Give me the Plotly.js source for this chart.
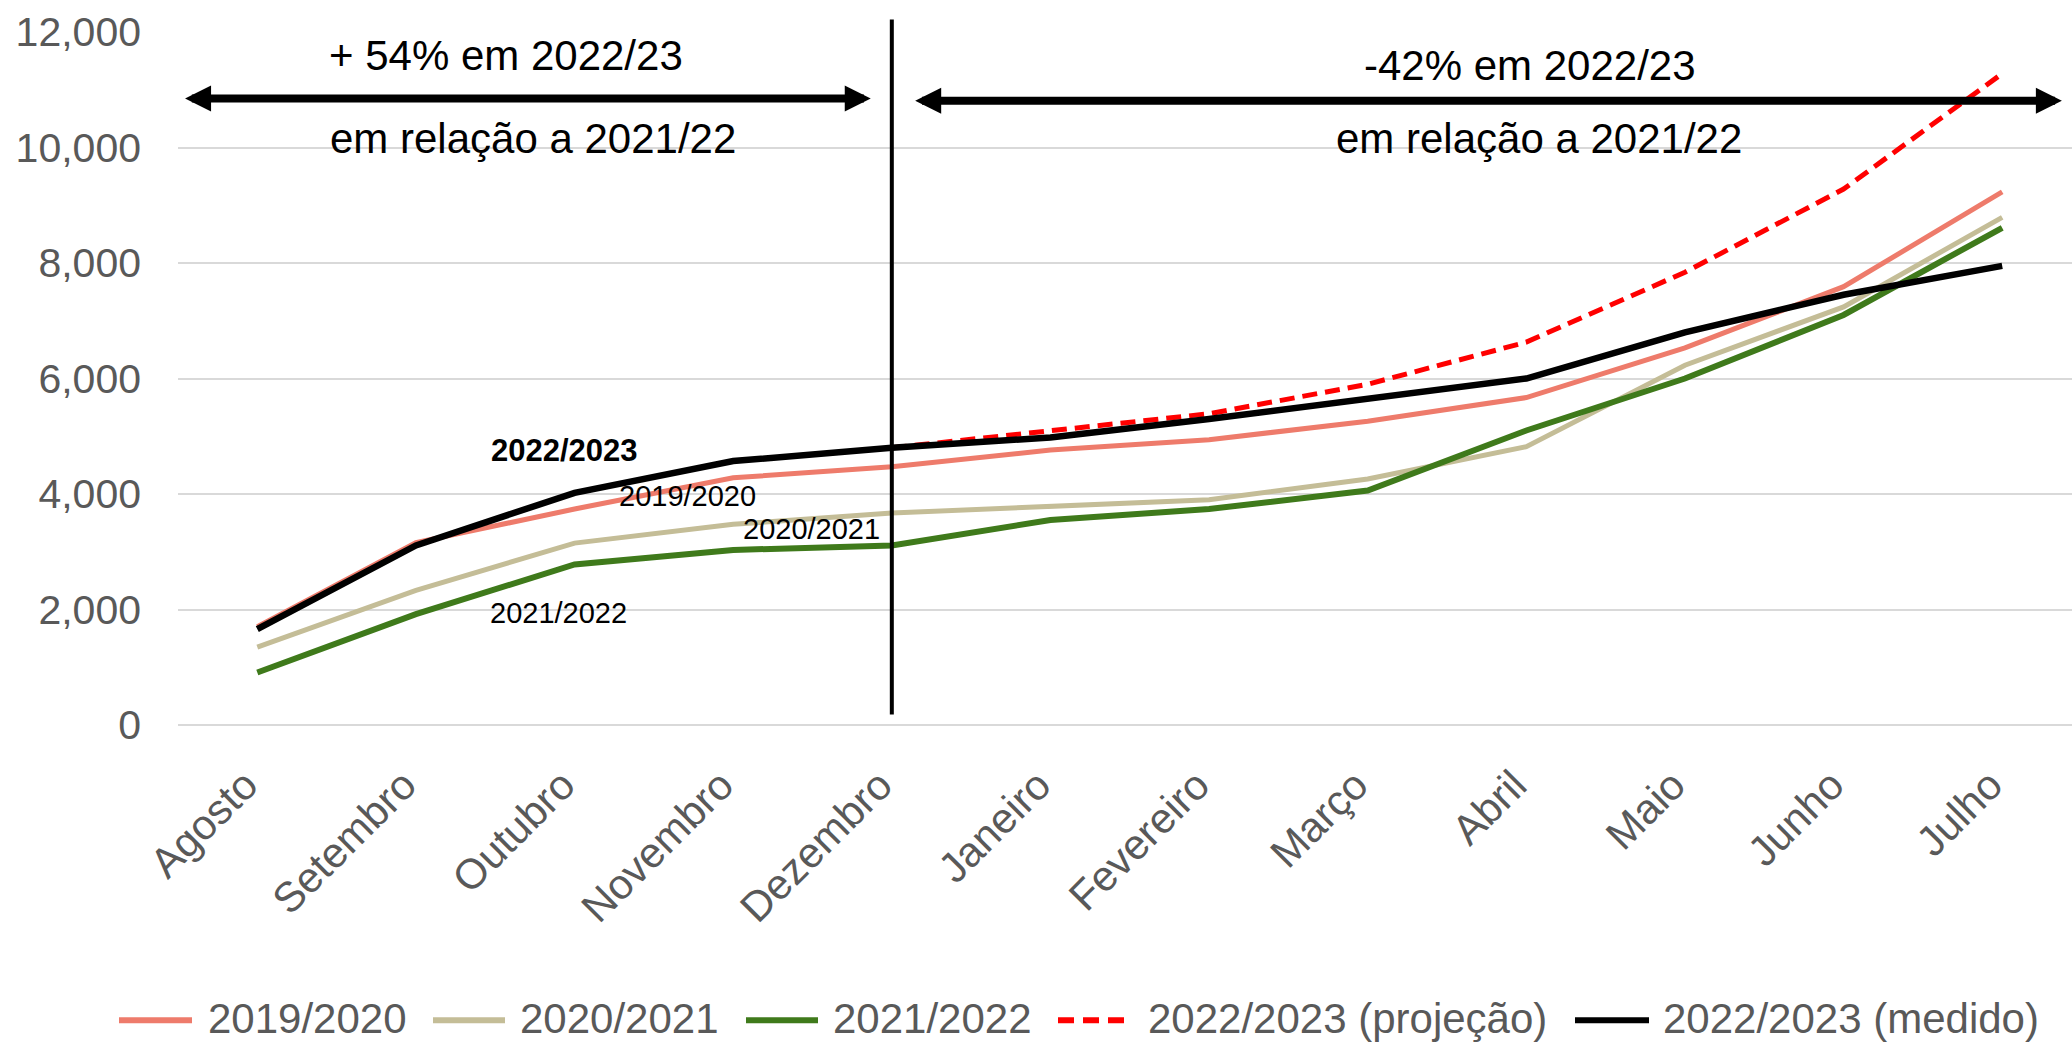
<!DOCTYPE html>
<html>
<head>
<meta charset="utf-8">
<script src="https://cdn.plot.ly/plotly-3.0.1.min.js"></script>
<style>html,body{margin:0;padding:0;background:#fff;}#chart{width:2072px;height:1043px;}</style>
</head>
<body>
<div id="chart"></div>
<script>
const months = ['Agosto','Setembro','Outubro','Novembro','Dezembro','Janeiro','Fevereiro','Março','Abril','Maio','Junho','Julho'];
const s2019_2020 = [1700, 3160, 3740, 4280, 4470, 4760, 4940, 5260, 5670, 6530, 7590, 9230];
const s2020_2021 = [1350, 2330, 3150, 3475, 3670, 3780, 3900, 4260, 4820, 6230, 7240, 8790];
const s2021_2022 = [910, 1920, 2780, 3030, 3110, 3550, 3740, 4060, 5100, 6000, 7100, 8610];
const s2022_2023_projecao = [null, null, null, null, 4800, 5100, 5390, 5900, 6630, 7840, 9280, 11280];
const s2022_2023_medido = [1660, 3110, 4020, 4570, 4800, 4980, 5300, 5650, 6000, 6800, 7450, 7950];
const seriesNames = ['2019/2020','2020/2021','2021/2022','2022/2023 (projeção)','2022/2023 (medido)'];
const seriesColors = ['#EE7B6B','#C4BD97','#3F7A1B','#FF0000','#000000'];
const seriesWidths = [5, 5, 6, 5, 6.5];
const seriesDash = ['solid','solid','solid','15px,8px','solid'];
const FONT = 'Liberation Sans, Arial, sans-serif';

const seriesValues = [s2019_2020, s2020_2021, s2021_2022, s2022_2023_projecao, s2022_2023_medido];
const traces = seriesValues.map((vals, i) => ({
  x: months, y: vals, name: seriesNames[i], mode: 'lines', showlegend: false, connectgaps: false,
  line: {color: seriesColors[i], width: seriesWidths[i], dash: seriesDash[i]}
}));

function txt(x, y, text, size, bold) {
  return {x: x, y: y, xref: 'x', yref: 'y', text: bold ? '<b>' + text + '</b>' : text, showarrow: false,
          xanchor: 'center', yanchor: 'middle', font: {family: FONT, size: size, color: '#000'}};
}
function arrow(x0, x1, y) {
  return {x: x1, y: y, ax: x0, ay: y, xref: 'x', yref: 'y', axref: 'x', ayref: 'y', text: '',
          showarrow: true, arrowside: 'end+start', arrowhead: 2, startarrowhead: 2,
          arrowsize: 0.65, startarrowsize: 0.65, arrowwidth: 8, arrowcolor: '#000',
          standoff: 0, startstandoff: 0};
}

// legend (drawn manually to match the long line samples of the original)
const PL = 178, PW = 1894, PB = 725.5, PH = 693.8;
const px = v => (v - PL) / PW;
const py = v => (PB - v) / PH;
const legendSampleStart = [119, 433, 746, 1058, 1575];
const legendSampleEnd = [192, 505, 818, 1124, 1649];
const legendTextStart = [206, 518, 831, 1146, 1661];
const legendShapes = seriesNames.map((n, i) => ({
  type: 'line', xref: 'paper', yref: 'paper', x0: px(legendSampleStart[i]), x1: px(legendSampleEnd[i]),
  y0: py(1021), y1: py(1021),
  line: {color: seriesColors[i], width: 6, dash: i === 3 ? '16px,9px' : 'solid'}
}));
const legendTexts = seriesNames.map((n, i) => ({
  x: px(legendTextStart[i]), y: py(1019), xref: 'paper', yref: 'paper', text: n, showarrow: false,
  xanchor: 'left', yanchor: 'middle', font: {family: FONT, size: 42, color: '#595959'}
}));

const layout = {
  width: 2072, height: 1043,
  margin: {l: 178, r: 0, t: 32, b: 318, pad: 0},
  paper_bgcolor: '#fff', plot_bgcolor: '#fff',
  font: {family: FONT, color: '#595959', size: 40},
  showlegend: false,
  xaxis: {type: 'category', range: [-0.5, 11.44], tickangle: -45, showgrid: false, showline: false,
          zeroline: false, ticks: '', ticklabelstandoff: 26, ticklabelshift: -12,
          tickfont: {family: FONT, size: 42, color: '#595959'}, fixedrange: true},
  yaxis: {range: [0, 12000], dtick: 2000, tickformat: ',d', showgrid: true, gridcolor: '#D9D9D9', gridwidth: 2,
          zeroline: true, zerolinecolor: '#D9D9D9', zerolinewidth: 2, showline: false, ticks: '',
          ticklabelstandoff: 36, tickfont: {family: FONT, size: 41, color: '#595959'}, fixedrange: true},
  shapes: [
    {type: 'line', xref: 'x', yref: 'paper', x0: 4, x1: 4, y0: 0.015, y1: 1.018, line: {color: '#000', width: 4}}
  ].concat(legendShapes),
  annotations: [
    arrow(-0.465, 3.867, 10850),
    arrow(4.138, 11.376, 10810),
    txt(1.570, 11587, '+ 54% em 2022/23', 42, false),
    txt(1.737, 10150, 'em relação a 2021/22', 42, false),
    txt(8.020, 11425, '-42% em 2022/23', 42, false),
    txt(8.080, 10150, 'em relação a 2021/22', 42, false),
    txt(1.934, 4748, '2022/2023', 31, true),
    txt(2.711, 3970, '2019/2020', 29, false),
    txt(3.493, 3399, '2020/2021', 29, false),
    txt(1.901, 1946, '2021/2022', 29, false)
  ].concat(legendTexts)
};

Plotly.newPlot('chart', traces, layout, {staticPlot: true, displayModeBar: false});
</script>
</body>
</html>
